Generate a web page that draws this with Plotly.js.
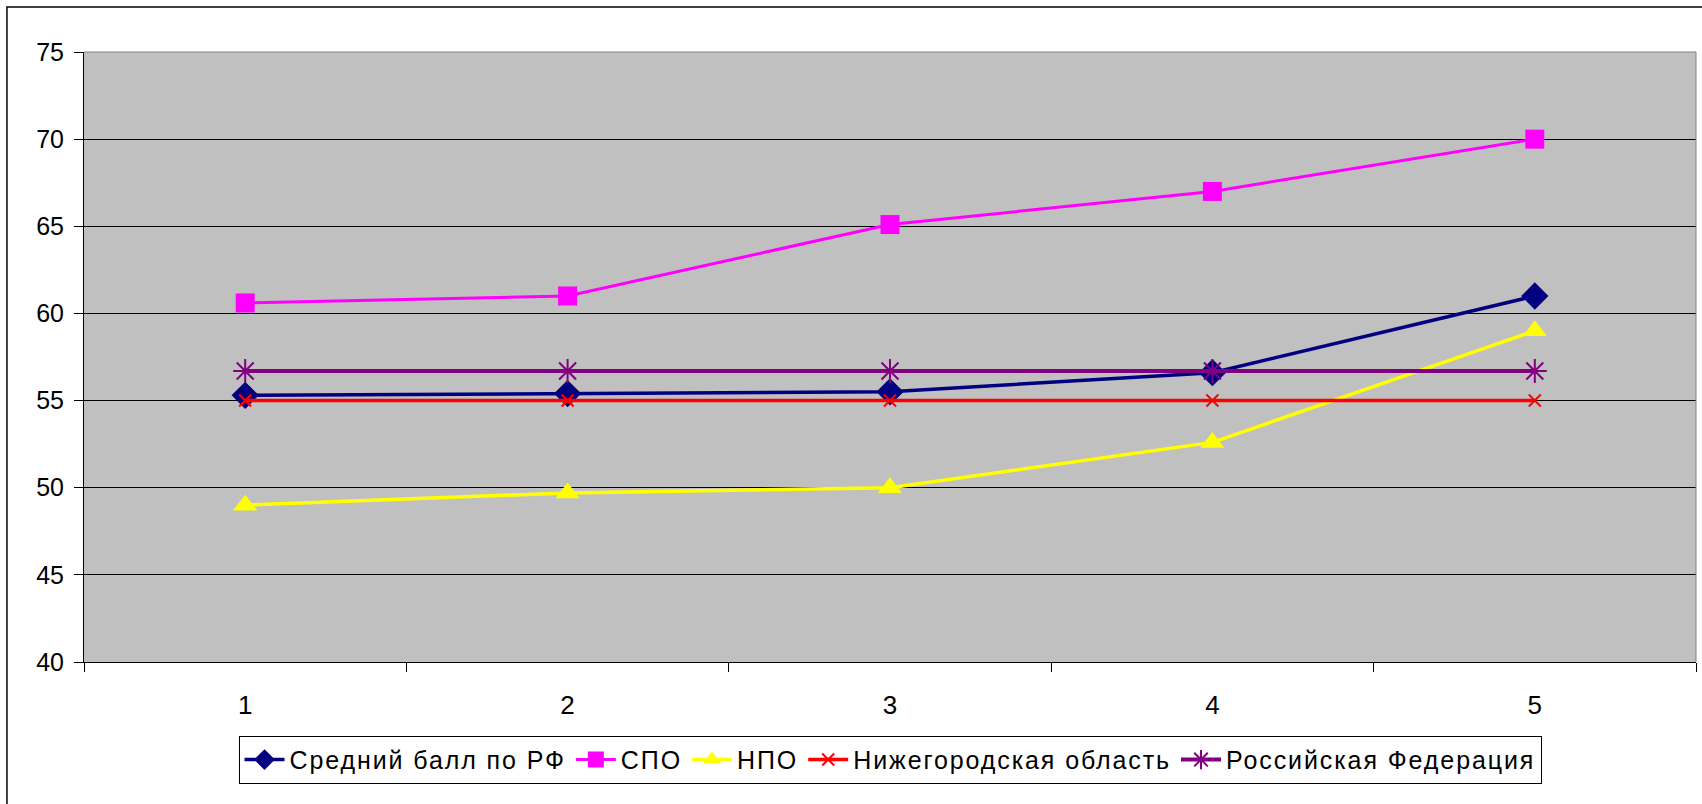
<!DOCTYPE html>
<html>
<head>
<meta charset="utf-8">
<script src="https://cdn.plot.ly/plotly-3.0.1.min.js"></script>
<style>
  html, body { margin: 0; padding: 0; background: #fff; }
  #chart { width: 1702px; height: 804px; }
  .legendtext { letter-spacing: 1.9px; }
</style>
</head>
<body>
<div id="chart"></div>
<script>
const categories = ['1', '2', '3', '4', '5'];
const seriesNames = ['Средний балл по РФ', 'СПО', 'НПО', 'Нижегородская область', 'Российская Федерация'];
const avgRF = [55.3, 55.4, 55.5, 56.6, 61.0];
const spo = [60.6, 61.0, 65.1, 67.0, 70.0];
const npo = [49.0, 49.7, 50.0, 52.6, 59.0];
const nizhny = [55.0, 55.0, 55.0, 55.0, 55.0];
const russia = [56.7, 56.7, 56.7, 56.7, 56.7];
const yTicks = [40, 45, 50, 55, 60, 65, 70, 75];

const styles = [
  {color: '#000080', symbol: 'diamond', size: 21, lw: 3.5},
  {color: '#FF00FF', symbol: 'square', size: 19, lw: 3},
  {color: '#FFFF00', symbol: 'triangle-up', size: 21, lw: 3.5},
  {color: '#FF0000', symbol: 'x-thin-open', size: 12, lw: 3.5},
  {color: '#800080', symbol: 'asterisk-open', size: 20, lw: 4}
];
const values = [avgRF, spo, npo, nizhny, russia];

const traces = values.map((v, i) => ({
  type: 'scatter',
  mode: 'lines+markers',
  name: seriesNames[i],
  x: categories,
  y: v,
  line: {color: styles[i].color, width: styles[i].lw},
  marker: {
    color: styles[i].color,
    symbol: styles[i].symbol,
    size: styles[i].size,
    line: {color: styles[i].color, width: (styles[i].symbol.indexOf('open') >= 0) ? 2 : 0}
  }
}));

const font = 'Liberation Sans, Arial, sans-serif';

const layout = {
  width: 1702,
  height: 804,
  margin: {l: 84, r: 6, t: 52, b: 142},
  paper_bgcolor: '#ffffff',
  plot_bgcolor: '#C0C0C0',
  showlegend: true,
  font: {family: font, color: '#000', size: 24},
  xaxis: {
    type: 'category',
    range: [-0.5, 4.5],
    tickson: 'boundaries',
    ticks: 'outside',
    ticklen: 9,
    tickcolor: '#000',
    showgrid: false,
    showline: true,
    linecolor: '#000',
    linewidth: 1,
    mirror: false,
    tickfont: {family: font, size: 26, color: '#000'},
    ticklabelstandoff: 20,
    zeroline: false
  },
  yaxis: {
    range: [40, 75],
    tickvals: yTicks,
    ticks: 'outside',
    ticklen: 9,
    tickcolor: '#000',
    showgrid: true,
    gridcolor: '#000',
    gridwidth: 1,
    showline: true,
    linecolor: '#000',
    linewidth: 1,
    zeroline: false,
    tickfont: {family: font, size: 25, color: '#000'},
    ticklabelstandoff: 5
  },
  legend: {
    orientation: 'h',
    x: 0.5,
    xanchor: 'center',
    y: -0.121,
    yanchor: 'top',
    bgcolor: '#ffffff',
    bordercolor: '#000',
    borderwidth: 1,
    font: {family: font, size: 25, color: '#000'},
    itemwidth: 40,
    tracegroupgap: 0,
    traceorder: 'normal'
  },
  shapes: [
    {type: 'line', xref: 'paper', yref: 'paper', x0: 0, x1: 1, y0: 1, y1: 1,
     line: {color: '#808080', width: 1}},
    {type: 'line', xref: 'paper', yref: 'paper', x0: 1, x1: 1, y0: 0, y1: 1,
     line: {color: '#808080', width: 1}},
    {type: 'rect', xref: 'paper', yref: 'paper', x0: -0.0478, x1: 1.2, y0: -0.5, y1: 1.0738,
     line: {color: '#000', width: 1.5}, layer: 'below'}
  ]
};

Plotly.newPlot('chart', traces, layout, {displayModeBar: false, staticPlot: true});
</script>
</body>
</html>
